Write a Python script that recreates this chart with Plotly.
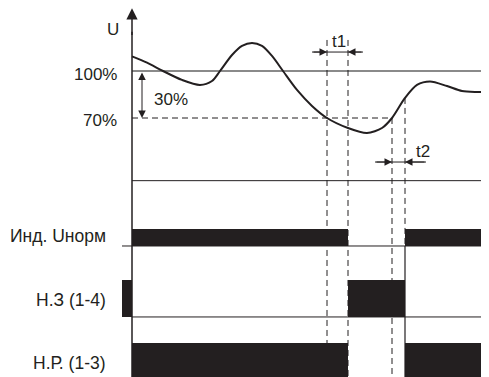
import plotly.graph_objects as go

# ---------------- data ----------------
# supply voltage U (% of nominal) against time (arbitrary units)
curve_t = [0, 15, 31, 50, 68, 80, 88, 100, 110, 120, 130, 140, 151, 165, 180,
           195, 216, 235, 250, 260, 273, 285, 298, 315, 330, 345, 357]
curve_u = [109.3, 105.3, 100, 94.3, 91.1, 93.6, 100, 110.2, 116, 117.9, 116, 109.6, 100,
           87.9, 77.7, 70, 63.6, 60.4, 63.6, 70, 82.8, 91.1, 93.3, 90.4, 87.2, 86.6, 86.6]

u_nominal = 100          # 100 %
u_threshold = 70         # 70 %
u_drop_label = "30%"
t_axis_level = 30        # level where the time axis is drawn

t_drop = 195             # voltage falls below 70 %
t1_end = 216             # relay releases after delay t1
t_restore = 260          # voltage returns above 70 %
t2_end = 273             # relay operates after delay t2
t_end = 354
t_max = 357

lane_names = ["Инд. Uнорм", "Н.З (1-4)", "Н.Р. (1-3)"]
# on-intervals (start, end) for each output lane
lane_on = [
    [(0, t1_end), (t2_end, t_end)],
    [(-10, 0), (t1_end, t2_end)],
    [(0, t1_end), (t2_end, t_end)],
]

# ---------------- layout constants ----------------
INK = "#231f20"
FONT = "Liberation Sans"
lane_bottom = [-11.7, -57.0, -97.0]
lane_top = [-0.85, -33.4, -73.6]
lane_label_y = [-5.3, -46.2, -86.1]
# the page body adds an 8px margin, so the figure is 8px smaller on each axis
Y_RANGE = [-95.32, 140.21]
X_RANGE = [-124, 357]

fig = go.Figure()

# output lanes as horizontal bars
for i, name in enumerate(lane_names):
    starts = [a for a, b in lane_on[i]]
    durs = [b - a for a, b in lane_on[i]]
    c = (lane_bottom[i] + lane_top[i]) / 2
    h = lane_top[i] - lane_bottom[i]
    fig.add_trace(go.Bar(orientation="h", base=starts, x=durs, y=[c] * len(starts),
                         width=[h] * len(starts), marker=dict(color=INK, line=dict(width=0)),
                         hoverinfo="skip", showlegend=False))

# voltage curve
fig.add_trace(go.Scatter(x=curve_t, y=curve_u, mode="lines",
                         line=dict(color=INK, width=2, shape="spline", smoothing=0.8),
                         hoverinfo="skip", showlegend=False))

shapes = []
dash = "6px,4px"
# 100% line
shapes.append(dict(type="line", x0=0, x1=t_max, y0=u_nominal, y1=u_nominal,
                   line=dict(color="#8a8a8a", width=2), layer="below"))
# 70% dashed line
shapes.append(dict(type="line", x0=0, x1=t_restore, y0=u_threshold, y1=u_threshold,
                   line=dict(color=INK, width=1, dash=dash), layer="below"))
# time axis
shapes.append(dict(type="line", x0=0, x1=t_max, y0=t_axis_level, y1=t_axis_level,
                   line=dict(color=INK, width=1), layer="below"))
# vertical axis
shapes.append(dict(type="line", x0=0, x1=0, y0=Y_RANGE[0], y1=125,
                   line=dict(color=INK, width=1.5)))
# lane baselines
shapes.append(dict(type="line", x0=-10, x1=t_max, y0=lane_bottom[0], y1=lane_bottom[0],
                   line=dict(color=INK, width=1), layer="below"))
shapes.append(dict(type="line", x0=0, x1=t_max, y0=lane_bottom[1], y1=lane_bottom[1],
                   line=dict(color=INK, width=1), layer="below"))
# dashed time markers
top_mark = 119.8
shapes.append(dict(type="line", x0=t_drop, x1=t_drop, y0=top_mark, y1=Y_RANGE[0],
                   line=dict(color=INK, width=1, dash=dash), layer="below"))
shapes.append(dict(type="line", x0=t1_end, x1=t1_end, y0=top_mark, y1=Y_RANGE[0],
                   line=dict(color=INK, width=1, dash=dash), layer="below"))
shapes.append(dict(type="line", x0=t_restore, x1=t_restore, y0=u_threshold, y1=Y_RANGE[0],
                   line=dict(color=INK, width=1, dash=dash), layer="below"))
shapes.append(dict(type="line", x0=t2_end, x1=t2_end, y0=82.8, y1=lane_bottom[0],
                   line=dict(color=INK, width=1, dash=dash), layer="below"))
shapes.append(dict(type="line", x0=t2_end, x1=t2_end, y0=lane_bottom[0], y1=Y_RANGE[0],
                   line=dict(color=INK, width=1.2)))
# t1 / t2 dimension lines
t1_y = 112.1
t2_y = 41.9
shapes.append(dict(type="line", x0=180, x1=231, y0=t1_y, y1=t1_y, line=dict(color=INK, width=1)))
shapes.append(dict(type="line", x0=243, x1=294, y0=t2_y, y1=t2_y, line=dict(color=INK, width=1)))

ann = []
tf = dict(family=FONT, size=17, color=INK)
lf = dict(family=FONT, size=17.5, color=INK)


def arrow(x, y, ax, ay, side="end", size=1.5, width=1):
    return dict(x=x, y=y, ax=ax, ay=ay, xref="x", yref="y", axref="x", ayref="y",
                showarrow=True, arrowhead=2, arrowsize=size, arrowwidth=width,
                arrowcolor=INK, arrowside=side, standoff=0, startstandoff=0, text="")


ann.append(arrow(0, 140.0, 0, 122, size=1.5, width=1.5))
ann.append(arrow(10, u_threshold, 10, u_nominal, side="end+start", size=1.5))
ann.append(arrow(t_drop, t1_y, 180, t1_y, size=1.5))
ann.append(arrow(t1_end, t1_y, 231, t1_y, size=1.5))
ann.append(arrow(t_restore, t2_y, 243, t2_y, size=1.5))
ann.append(arrow(t2_end, t2_y, 294, t2_y, size=1.5))

ann.append(dict(x=-13, y=u_nominal - 2, text="100%", xanchor="right", yanchor="middle",
                showarrow=False, font=tf))
ann.append(dict(x=-13, y=u_threshold - 1.5, text="70%", xanchor="right", yanchor="middle",
                showarrow=False, font=tf))
ann.append(dict(x=-19, y=126.8, text="U", xanchor="center", yanchor="middle",
                showarrow=False, font=tf))
ann.append(dict(x=352, y=23.4, text="t", xanchor="center", yanchor="middle",
                showarrow=False, font=tf))
ann.append(dict(x=20, y=81.5, text=u_drop_label, xanchor="left", yanchor="middle",
                showarrow=False, font=tf))
ann.append(dict(x=207, y=119, text="t1", xanchor="center", yanchor="middle",
                showarrow=False, font=tf))
ann.append(dict(x=291, y=48.9, text="t2", xanchor="center", yanchor="middle",
                showarrow=False, font=tf))
for name, ly in zip(lane_names, lane_label_y):
    ann.append(dict(x=-24, y=ly, text=name, xanchor="right", yanchor="middle",
                    showarrow=False, font=lf))

fig.update_layout(
    width=481, height=369, margin=dict(l=0, r=0, t=0, b=0),
    paper_bgcolor="white", plot_bgcolor="white",
    barmode="overlay", bargap=0,
    shapes=shapes, annotations=ann, showlegend=False,
    xaxis=dict(range=X_RANGE, visible=False, fixedrange=True),
    yaxis=dict(range=Y_RANGE, visible=False, fixedrange=True),
    font=tf,
)

fig.write_html("out.html")
